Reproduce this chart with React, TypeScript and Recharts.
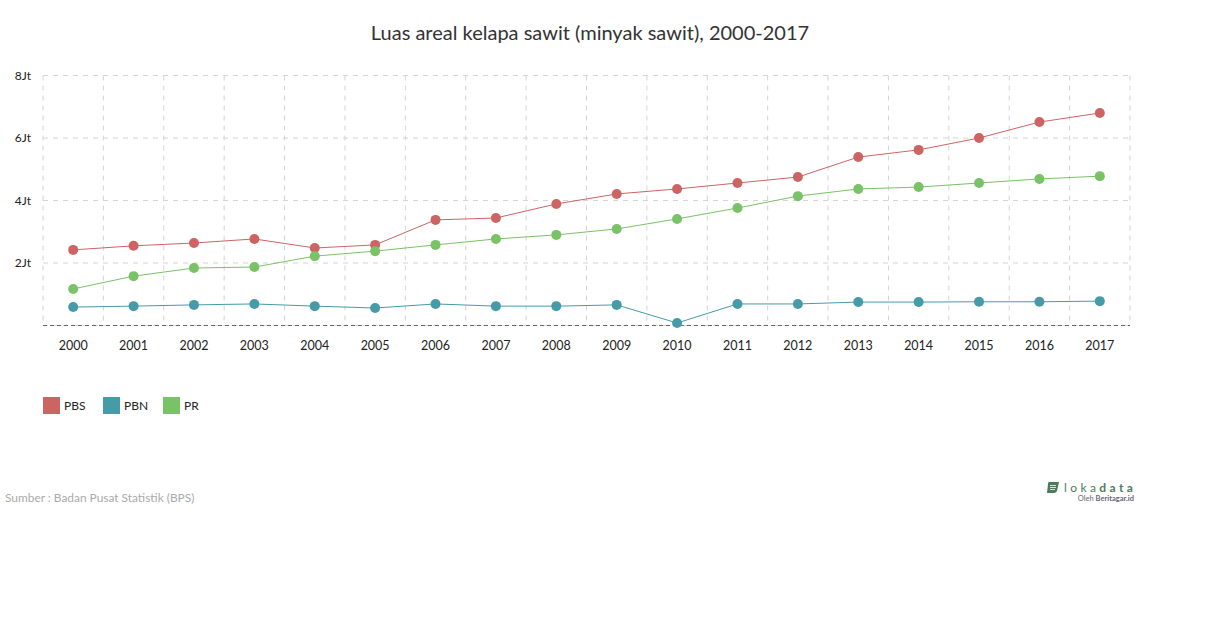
import { LineChart, Line, XAxis, YAxis, CartesianGrid } from "recharts";

const years = ["2000", "2001", "2002", "2003", "2004", "2005", "2006", "2007", "2008", "2009", "2010", "2011", "2012", "2013", "2014", "2015", "2016", "2017"];
const pbs = [2.42, 2.55, 2.64, 2.77, 2.48, 2.58, 3.38, 3.44, 3.89, 4.21, 4.37, 4.56, 4.75, 5.39, 5.62, 6.0, 6.51, 6.8];
const pbn = [0.59, 0.62, 0.66, 0.69, 0.62, 0.56, 0.69, 0.62, 0.62, 0.66, 0.08, 0.69, 0.69, 0.75, 0.75, 0.76, 0.76, 0.78];
const pr = [1.17, 1.58, 1.84, 1.87, 2.22, 2.38, 2.58, 2.77, 2.9, 3.09, 3.41, 3.76, 4.14, 4.37, 4.43, 4.56, 4.69, 4.78];
const yTicks = [0, 2, 4, 6, 8];

const seriesList = [
    { name: "PBS", values: pbs, color: "#cd6464" },
    { name: "PBN", values: pbn, color: "#459ba8" },
    { name: "PR", values: pr, color: "#79c267" },
];

const data = years.map((year, i) => ({ year, PBS: pbs[i], PBN: pbn[i], PR: pr[i] }));

const font = "Lato, sans-serif";

function ChartLegend() {
    return (
        <div style={{ position: "absolute", left: 43, top: 397, display: "flex", fontFamily: font, fontSize: 12, color: "#222" }}>
            {seriesList.map(s => (
                <div key={s.name} style={{ width: 60, display: "flex", alignItems: "center" }}>
                    <span style={{ width: 17, height: 17, background: s.color, marginRight: 4 }} />
                    <span>{s.name}</span>
                </div>
            ))}
        </div>
    );
}

export default function App() {
    return (
        <div style={{ position: "absolute", left: 0, top: 0, width: 1210, height: 628, background: "#fff", overflow: "hidden" }}>
            <div style={{ position: "absolute", top: 20, left: 0, width: 1180, textAlign: "center", fontFamily: font, fontSize: 20, color: "#333" }}>
                Luas areal kelapa sawit (minyak sawit), 2000-2017
            </div>
            <LineChart width={1210} height={628} data={data} margin={{ top: 75.5, left: 0, right: 80, bottom: 272.5 }}>
                <CartesianGrid
                    stroke="#d4d4d4"
                    strokeDasharray="5 5"
                    verticalCoordinatesGenerator={({ offset }: any) =>
                        [...years, ""].map((_, i) => offset.left + (i * offset.width) / years.length)
                    }
                />
                <XAxis
                    dataKey="year"
                    scale="band"
                    interval={0}
                    height={30}
                    tickLine={false}
                    axisLine={{ stroke: "#666", strokeDasharray: "4 3" }}
                    tick={{ fill: "#222", fontSize: 12.5, fontFamily: font, dy: 7.5 }}
                />
                <YAxis
                    width={43}
                    domain={[0, 8]}
                    ticks={yTicks}
                    axisLine={false}
                    tickLine={false}
                    tickFormatter={(v: number) => (v === 0 ? "" : `${v}Jt`)}
                    tick={{ fill: "#222", fontSize: 12, fontFamily: font, dx: -4, dy: 0 }}
                />
                {seriesList.map(s => (
                    <Line
                        key={s.name}
                        dataKey={s.name}
                        stroke={s.color}
                        strokeWidth={1}
                        dot={{ r: 5, fill: s.color, stroke: s.color, strokeWidth: 0, fillOpacity: 1 }}
                        isAnimationActive={false}
                    />
                ))}
            </LineChart>
            <ChartLegend />
            <div style={{ position: "absolute", left: 5, top: 490, fontFamily: font, fontSize: 11.9, color: "#aaa" }}>
                Sumber : Badan Pusat Statistik (BPS)
            </div>
            <div style={{ position: "absolute", left: 1064, top: 480, fontFamily: font, fontSize: 12, letterSpacing: 3.4, color: "#4a7c59", whiteSpace: "nowrap" }}>
                loka<b>data</b>
            </div>
            <svg style={{ position: "absolute", left: 1046, top: 481 }} width={14} height={13}>
                <path d="M3 1 H13 L11 10 Q10 12 8 12 H1 L2 3 Q2 1 3 1 Z" fill="#4a7c59" />
                <path d="M4 4.5 H10 M4 6.5 H10 M4 8.5 H9" stroke="#fff" strokeWidth={0.8} />
            </svg>
            <div style={{ position: "absolute", right: 76, top: 494, fontFamily: font, fontSize: 7.5, color: "#667", whiteSpace: "nowrap" }}>
                Oleh <b>Beritagar.id</b>
            </div>
        </div>
    );
}
